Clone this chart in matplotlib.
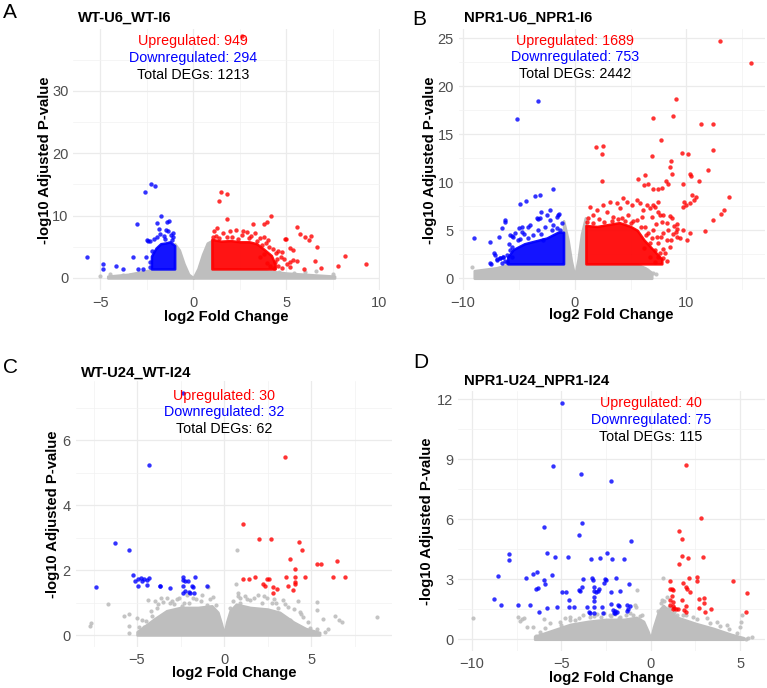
import matplotlib
matplotlib.use('Agg')
import matplotlib.pyplot as plt
import numpy as np
from matplotlib.ticker import MultipleLocator

plt.rcParams['font.family'] = ['Liberation Sans', 'DejaVu Sans']

W, H = 767, 688
RED, BLUE, GRAY = '#FF0000', '#0000FF', '#BEBEBE'

# ---------------- Panel A : WT-U6_WT-I6 ----------------
A_title = 'WT-U6_WT-I6'
A_counts = [949, 294, 1213]
A_gray_env_x = [-4.6, -3.5, -2.3, -1.05, -1.0, -0.75, -0.5, -0.25, 0.0, 0.25, 0.5, 0.75, 1.0, 1.05, 3.5, 5.0, 6.5, 7.6]
A_gray_env_y = [0.3, 0.6, 1.3, 1.4, 5.5, 4.5, 2.3, 0.6, 0.05, 1.5, 3.8, 5.6, 6.0, 1.4, 1.3, 0.8, 0.5, 0.3]
A_up_env_x = [1.0, 1.5, 2.0, 2.5, 3.0, 3.4, 3.8, 4.2, 4.4]
A_up_env_y = [6.2, 5.9, 6.0, 5.8, 5.8, 5.5, 4.6, 3.6, 2.2]
A_down_env_x = [-2.25, -2.0, -1.75, -1.5, -1.25, -1.0]
A_down_env_y = [3.5, 4.8, 5.5, 5.6, 5.8, 5.2]
A_sig_floor = 1.45
A_gray_pts = [(7.53, 0.64), (6.6, 1.17), (6.0, 0.9), (5.4, 0.8), (4.6, 0.95), (4.2, 1.0),
              (-4.48, 0.6), (-3.8, 0.45), (-3.4, 0.4), (-3.0, 0.3), (-5.0, 0.25)]
A_up_pts = [(2.63, 38.8), (1.51, 13.8), (1.79, 13.5), (1.40, 12.34), (1.83, 9.4), (4.16, 9.94),
            (3.98, 9.0), (3.8, 8.7), (3.23, 8.6), (5.59, 8.2), (5.74, 7.0), (5.99, 6.6), (6.24, 6.1),
            (6.31, 6.8), (6.64, 5.0), (4.95, 6.3), (5.0, 6.3), (5.38, 4.5), (5.2, 4.75), (4.75, 4.2),
            (8.16, 3.53), (9.28, 2.3), (7.8, 1.9), (6.87, 1.58), (6.55, 2.7), (5.59, 2.7), (5.98, 1.4),
            (5.2, 2.6), (3.59, 6.36), (3.80, 6.62), (4.03, 6.09), (3.68, 5.28), (3.9, 5.55), (4.3, 4.59),
            (4.09, 4.91), (4.45, 3.95), (4.57, 4.38), (4.7, 3.42), (3.59, 3.42), (3.95, 2.35), (4.12, 1.92),
            (4.39, 2.62), (4.57, 1.92), (4.75, 1.55), (5.02, 2.24), (5.2, 1.7), (5.38, 2.87), (4.88, 2.98),
            (3.8, 3.84), (1.1, 7.5), (1.3, 8.0), (1.6, 7.2), (2.0, 7.6), (2.3, 7.7), (2.6, 6.9), (2.9, 7.3),
            (3.1, 6.8), (1.2, 6.8), (2.1, 6.6), (2.7, 7.6), (3.3, 7.2), (1.05, 6.6), (1.4, 6.4), (1.8, 6.5),
            (2.4, 6.3), (3.0, 6.4), (3.4, 6.0), (4.5, 3.0), (4.35, 1.6)]
A_down_pts = [(-5.70, 3.31), (-4.84, 2.24), (-4.84, 1.4), (-4.16, 1.92), (-3.80, 1.45), (-3.22, 3.42),
              (-3.01, 8.65), (-2.96, 1.45), (-2.71, 1.45), (-2.61, 13.8), (-2.26, 15.06), (-2.08, 14.74),
              (-2.54, 3.4), (-2.51, 6.09), (-2.45, 5.9), (-2.35, 5.9), (-1.75, 9.94), (-1.97, 8.87),
              (-1.39, 8.9), (-1.30, 9.1), (-1.82, 7.8), (-1.45, 7.75), (-1.38, 7.6), (-1.09, 7.2),
              (-1.07, 6.5), (-1.8, 7.0), (-1.6, 6.8), (-1.2, 6.9), (-2.1, 6.3), (-1.95, 6.5),
              (-2.3, 2.5), (-2.35, 1.8), (-2.2, 4.3), (-1.15, 6.1), (-1.5, 6.2)]

# ---------------- Panel B : NPR1-U6_NPR1-I6 ----------------
B_title = 'NPR1-U6_NPR1-I6'
B_counts = [1689, 753, 2442]
B_gray_env_x = [-9.0, -7.0, -6.0, -1.05, -1.0, -0.6, -0.3, 0.0, 0.3, 0.6, 0.95, 1.05, 5.5, 6.3, 6.9]
B_gray_env_y = [0.8, 1.1, 1.45, 1.5, 6.0, 4.0, 1.8, 0.2, 2.0, 4.6, 6.3, 1.5, 1.5, 1.1, 0.6]
B_up_env_x = [1.0, 2.0, 3.0, 4.0, 5.0, 5.6, 6.2, 7.0, 7.8]
B_up_env_y = [5.5, 5.4, 5.6, 5.8, 5.4, 5.0, 4.0, 3.0, 2.0]
B_down_env_x = [-6.0, -5.5, -4.5, -3.5, -2.5, -1.5, -1.0]
B_down_env_y = [2.2, 3.0, 3.6, 3.9, 4.2, 4.8, 4.8]
B_sig_floor = 1.5
B_gray_pts = [(-9.2, 1.15), (-7.64, 0.9), (-8.0, 0.7), (-6.8, 0.8), (7.0, 0.6), (6.5, 0.9), (7.3, 0.4)]
B_up_pts = [(12.98, 24.75), (15.81, 22.4), (9.1, 18.68), (8.77, 16.87), (7.04, 16.65), (11.28, 16.07),
            (12.38, 16.07), (7.7, 14.4), (1.88, 13.7), (2.53, 13.75), (2.4, 12.9), (2.45, 10.1), (6.9, 12.7),
            (9.64, 13.0), (10.14, 12.95), (12.38, 13.4), (8.6, 12.2), (8.5, 11.6), (11.13, 10.1), (10.3, 10.9),
            (10.4, 10.7), (11.9, 11.3), (6.33, 10.8), (5.64, 10.3), (6.18, 9.7), (6.6, 9.8), (8.74, 10.9),
            (8.2, 10.1), (8.35, 9.8), (9.73, 9.8), (7.8, 9.4), (7.5, 9.3), (7.05, 9.3), (13.84, 8.43),
            (10.5, 8.7), (10.9, 8.5), (10.7, 8.2), (9.8, 7.9), (10.3, 7.8), (10.0, 7.6), (9.7, 7.4),
            (13.4, 7.1), (13.1, 6.7), (12.4, 6.1), (11.7, 4.96), (10.3, 4.67), (8.5, 6.5), (8.9, 5.4),
            (9.1, 4.8), (8.6, 4.0), (9.2, 4.3), (9.2, 5.1), (7.0, 7.6), (7.5, 7.9), (7.6, 6.6), (7.3, 5.7),
            (7.0, 5.0), (7.7, 4.3), (7.9, 3.0), (7.5, 2.2),
            (5.55, 8.16), (5.85, 7.81), (6.15, 7.12), (6.45, 7.64), (6.74, 7.29), (6.89, 6.43), (7.19, 7.47),
            (7.49, 6.95), (7.79, 5.9), (7.94, 6.6), (8.24, 5.74), (8.38, 5.05), (8.68, 6.26), (8.83, 4.6),
            (9.13, 5.64), (9.43, 4.24), (9.73, 5.05), (10.03, 4.0), (7.34, 4.34), (6.74, 3.65), (7.19, 2.96),
            (7.64, 2.6), (7.94, 2.1), (6.74, 2.26), (5.1, 7.64), (4.66, 7.98), (5.55, 6.07), (6.3, 5.38),
            (6.6, 4.68), (8.24, 3.99), (8.53, 3.3), (7.49, 3.65), (7.94, 4.68),
            (1.37, 7.46), (1.97, 7.12), (2.56, 7.64), (3.16, 7.98), (3.76, 7.81), (4.35, 8.33), (1.67, 6.6),
            (2.86, 6.95), (4.06, 7.29), (3.46, 6.43), (1.22, 6.26), (2.2, 6.2), (3.9, 6.2), (4.8, 6.6),
            (5.2, 6.0), (4.5, 6.0), (2.6, 5.9), (6.0, 6.4), (6.4, 4.5), (5.9, 5.3), (6.9, 4.2), (6.2, 3.2),
            (1.1, 5.9), (1.6, 5.8), (3.3, 6.0), (4.2, 6.3), (5.0, 5.8), (8.1, 2.6), (8.3, 1.8), (7.2, 1.7)]
B_down_pts = [(-5.19, 16.6), (-3.26, 18.47), (-9.0, 4.23), (-7.58, 1.6), (-7.46, 1.5), (-7.58, 3.75),
              (-7.27, 2.6), (-7.1, 2.4), (-6.75, 4.33), (-6.55, 5.2), (-6.25, 6.07), (-6.25, 5.9),
              (-4.9, 7.7), (-4.36, 8.05), (-3.55, 8.6), (-3.1, 8.7), (-1.97, 9.27), (-2.2, 7.1), (-3.04, 6.9),
              (-1.5, 6.6), (-1.6, 6.4), (-1.4, 6.7), (-3.35, 6.3), (-3.3, 6.2), (-4.7, 5.3), (-4.2, 5.3),
              (-5.0, 5.2), (-5.8, 4.5), (-5.65, 4.4), (-5.5, 4.3), (-7.0, 2.0), (-6.7, 2.07), (-6.4, 2.24),
              (-5.34, 4.68), (-4.75, 4.86), (-4.0, 5.55), (-3.7, 4.51), (-3.25, 5.03), (-2.66, 5.38),
              (-2.21, 6.07), (-1.91, 5.55), (-1.61, 5.2), (-1.17, 5.72), (-2.81, 3.99), (-4.15, 4.16),
              (-5.05, 3.99), (-3.1, 6.24), (-2.51, 6.59), (-6.98, 1.9), (-6.68, 2.07), (-6.38, 2.24),
              (-6.09, 2.41), (-5.79, 2.95), (-5.64, 3.3), (-6.2, 1.8), (-5.9, 3.6), (-4.5, 4.6), (-1.3, 5.0),
              (-6.5, 1.6), (-6.1, 1.7), (-5.6, 2.2), (-3.0, 4.6), (-2.0, 5.0), (-4.9, 4.1)]

# ---------------- Panel C : WT-U24_WT-I24 ----------------
C_title = 'WT-U24_WT-I24'
C_counts = [30, 32, 62]
C_gray_env_x = [-5.0, -4.5, -4.0, -3.3, -2.5, -1.5, -0.7, -0.35, -0.15, 0.0, 0.15, 0.35, 0.7, 1.5, 2.5, 3.2, 4.0, 4.7, 5.5]
C_gray_env_y = [0.1, 0.3, 0.5, 0.75, 0.85, 0.85, 0.9, 0.7, 0.35, 0.03, 0.4, 0.75, 0.95, 0.85, 0.8, 0.7, 0.4, 0.2, 0.08]
C_gray_pts = [(-7.7, 0.29), (-7.66, 0.38), (-6.68, 0.95), (-5.73, 0.6), (-5.44, 0.64), (-5.44, 0.29),
              (-5.48, 0.05), (-5.02, 0.53), (-4.6, 0.26), (-4.48, 0.43), (-4.35, 1.08), (-4.16, 0.59),
              (-3.97, 1.06), (-3.83, 0.82), (-3.64, 1.13), (-3.49, 1.02), (-3.3, 1.13), (-3.1, 1.0),
              (-2.72, 1.1), (-2.43, 0.89), (-2.14, 1.22), (-1.28, 1.22), (-0.9, 1.48), (-1.0, 0.92),
              (-0.61, 1.18), (-0.48, 0.92), (0.67, 1.57), (0.83, 1.28), (0.92, 1.13), (0.73, 2.62),
              (0.35, 0.82), (0.93, 0.97), (1.49, 1.08), (1.98, 1.22), (2.45, 1.13), (2.74, 1.0), (3.13, 0.82),
              (3.41, 1.08), (3.7, 0.87), (4.27, 1.05), (4.37, 0.72), (4.94, 0.21), (5.33, 1.03), (5.37, 0.77),
              (5.71, 0.48), (5.33, 0.18), (6.38, 0.59), (6.63, 0.47), (6.76, 0.41), (8.81, 0.54), (4.56, 0.56),
              (3.79, 0.46), (-3.66, 0.46), (-4.04, 0.26), (-4.9, 0.26), (5.0, 0.1), (6.0, 0.2), (5.8, 0.1),
              (-2.0, 1.0), (-1.6, 1.1), (1.2, 1.2), (2.2, 1.0), (-2.9, 0.95), (3.0, 1.0),
              (-3.0, 1.05), (-2.6, 1.15), (-2.3, 1.0), (-1.8, 1.15), (-1.3, 1.05), (-0.8, 1.1), (0.5, 1.05),
              (0.8, 1.2), (1.3, 1.1), (1.7, 1.15), (2.3, 1.2), (2.9, 1.1), (3.5, 0.95), (4.0, 0.8), (4.4, 0.65),
              (-4.2, 0.75), (-3.8, 0.95), (-4.7, 0.45), (4.8, 0.4)]
C_up_pts = [(1.09, 3.43), (2.01, 2.95), (2.70, 2.95), (4.29, 2.86), (4.46, 2.62), (3.81, 2.35), (4.1, 2.04),
            (5.36, 2.2), (5.55, 2.18), (6.51, 2.27), (1.11, 1.72), (1.42, 1.72), (1.8, 1.8), (2.47, 1.72),
            (2.57, 1.72), (2.26, 1.56), (2.34, 1.5), (2.82, 1.49), (3.07, 1.43), (2.84, 1.3), (3.55, 1.77),
            (3.69, 1.5), (3.95, 1.38), (4.1, 1.8), (4.1, 1.63), (4.1, 1.57), (4.65, 1.8), (6.25, 1.77),
            (6.96, 1.8), (3.51, 5.47)]
C_down_pts = [(-7.36, 1.47), (-6.26, 2.82), (-5.44, 2.62), (-5.21, 1.85), (-5.1, 1.65), (-4.95, 1.72),
              (-4.75, 1.74), (-4.6, 1.72), (-4.45, 1.7), (-4.3, 1.74), (-4.95, 1.5), (-4.7, 1.66), (-4.45, 1.55),
              (-3.68, 1.52), (-3.66, 1.5), (-3.1, 1.45), (-2.37, 1.8), (-2.33, 1.7), (-2.25, 1.66), (-2.05, 1.66),
              (-2.37, 1.52), (-2.25, 1.34), (-2.0, 1.32), (-2.36, 1.3), (-1.85, 1.52), (-1.8, 1.48),
              (-1.69, 1.78), (-1.95, 1.3), (-1.75, 1.3), (-1.0, 1.5), (-4.31, 5.23), (-2.37, 7.44)]

# ---------------- Panel D : NPR1-U24_NPR1-I24 ----------------
D_title = 'NPR1-U24_NPR1-I24'
D_counts = [40, 75, 115]
D_gray_env_x = [-6.5, -5.5, -4.5, -3.5, -2.5, -1.5, -0.8, -0.4, -0.15, 0.0, 0.15, 0.4, 0.7, 1.0, 1.5, 2.5, 3.5, 4.5, 5.2]
D_gray_env_y = [0.15, 0.45, 0.75, 0.9, 1.0, 1.0, 1.1, 0.9, 0.4, 0.03, 0.6, 1.3, 1.7, 1.45, 1.1, 0.8, 0.55, 0.25, 0.08]
D_gray_pts = [(-9.93, 1.05), (-7.44, 1.13), (-7.31, 0.92), (-7.22, 1.02), (-7.09, 1.05), (-6.57, 0.63),
              (-6.42, 0.18), (-6.2, 0.38), (-5.92, 0.55), (-5.63, 0.8), (-5.26, 0.13), (-5.08, 0.88),
              (-4.8, 1.05), (-4.52, 1.13), (-4.24, 0.97), (-3.77, 1.22), (-3.4, 1.13), (-3.03, 1.27),
              (-2.28, 1.22), (-1.72, 1.13), (-1.17, 1.3), (-0.88, 1.7), (-0.84, 1.62), (-0.78, 2.47),
              (-0.5, 1.22), (0.63, 1.97), (0.71, 1.63), (0.7, 3.05), (0.9, 2.13), (1.45, 1.22), (2.38, 1.13),
              (3.13, 1.05), (3.69, 0.88), (4.25, 0.72), (4.81, 0.3), (5.03, 0.88), (5.09, 1.22), (4.99, 0.63),
              (5.33, 0.0), (5.65, 0.13), (5.46, 0.08), (-6.9, 0.6), (-6.0, 1.0), (-2.6, 1.3), (-2.0, 1.25),
              (1.0, 1.6), (0.55, 1.5), (2.0, 1.2), (-1.4, 1.2),
              (-5.0, 0.7), (-4.5, 0.95), (-4.0, 1.05), (-3.2, 1.15), (-2.8, 1.1), (-2.2, 1.15), (-1.8, 1.05),
              (-1.0, 1.2), (-0.6, 1.15), (0.4, 1.4), (0.6, 1.8), (0.75, 1.9), (1.1, 1.5), (1.3, 1.35),
              (1.8, 1.2), (2.6, 1.0), (3.3, 0.8), (3.9, 0.65), (4.4, 0.5)]
D_up_pts = [(2.81, 6.05), (1.6, 5.43), (1.77, 5.02), (1.75, 4.18), (2.08, 4.05), (1.58, 3.75), (2.92, 4.13),
            (2.16, 3.05), (2.57, 3.1), (2.57, 2.9), (1.06, 2.93), (1.8, 2.8), (1.95, 2.6), (2.05, 2.5),
            (2.2, 2.38), (1.1, 2.5), (1.2, 2.52), (1.25, 2.48), (4.63, 2.9), (5.37, 2.3), (5.33, 1.37),
            (2.7, 2.0), (2.98, 2.05), (2.98, 1.8), (2.7, 1.55), (3.36, 1.52), (3.05, 1.38), (1.1, 1.95),
            (1.22, 1.85), (1.1, 1.7), (1.25, 1.65), (1.3, 1.55), (1.4, 1.5), (1.5, 1.52), (1.25, 1.52),
            (1.75, 1.95), (1.95, 1.65), (1.85, 1.45), (1.95, 1.38), (1.2, 2.15), (1.96, 8.7)]
D_down_pts = [(-8.77, 2.02), (-8.4, 1.73), (-8.53, 3.17), (-7.91, 4.24), (-7.91, 3.96), (-7.44, 1.70),
              (-6.99, 3.07), (-6.75, 1.70), (-6.57, 3.25), (-6.34, 3.38), (-6.4, 2.5), (-6.3, 2.57),
              (-6.23, 1.38), (-5.99, 5.6), (-5.97, 2.99), (-5.92, 2.78), (-5.82, 4.31), (-5.78, 1.55),
              (-5.5, 3.2), (-5.35, 4.1), (-5.22, 1.6), (-4.98, 2.36), (-4.74, 2.36), (-4.65, 4.13),
              (-4.56, 1.96), (-4.56, 1.6), (-4.28, 1.63), (-4.0, 5.2), (-3.84, 5.8), (-3.8, 3.0), (-3.85, 2.6),
              (-3.95, 2.4), (-4.0, 2.45), (-3.58, 1.6), (-3.45, 1.35), (-3.4, 1.33), (-3.36, 4.0), (-3.3, 3.05),
              (-3.25, 2.95), (-3.2, 2.6), (-3.18, 2.4), (-3.05, 2.35), (-2.95, 2.4), (-3.15, 2.1), (-3.15, 1.9),
              (-3.15, 1.6), (-3.2, 1.33), (-2.85, 4.08), (-2.89, 2.52), (-2.7, 1.6), (-2.65, 1.3), (-2.6, 2.8),
              (-2.55, 3.0), (-2.5, 2.98), (-2.43, 4.33), (-2.17, 4.0), (-2.2, 2.38), (-2.2, 1.75), (-2.1, 1.45),
              (-2.02, 1.4), (-1.9, 1.35), (-1.98, 1.3), (-2.05, 1.33), (-1.96, 3.05), (-1.85, 1.72), (-1.8, 1.68),
              (-1.72, 2.42), (-1.49, 4.0), (-1.3, 1.7), (-1.25, 1.5), (-1.15, 1.65), (-1.35, 1.4), (-1.21, 2.75),
              (-1.13, 4.93), (-4.98, 11.83), (-5.45, 8.68), (-3.92, 8.25), (-2.2, 7.9)]

# ---------------- layout (pixels) ----------------
fig = plt.figure(figsize=(W / 100, H / 100), dpi=100)


def add_ax(l, t, r, b):
    return fig.add_axes([l / W, 1 - b / H, (r - l) / W, (b - t) / H])


def ftext(x, y, s, **kw):
    fig.text(x / W, 1 - y / H, s, **kw)


def style(ax, xlim, ylim, xmaj, ymaj):
    ax.set_xlim(*xlim)
    ax.set_ylim(*ylim)
    ax.xaxis.set_major_locator(MultipleLocator(xmaj))
    ax.xaxis.set_minor_locator(MultipleLocator(xmaj / 2))
    ax.yaxis.set_major_locator(MultipleLocator(ymaj))
    ax.yaxis.set_minor_locator(MultipleLocator(ymaj / 2))
    ax.grid(which='major', color='#EBEBEB', lw=0.9)
    ax.grid(which='minor', color='#F2F2F2', lw=0.5)
    ax.set_axisbelow(True)
    for s in ax.spines.values():
        s.set_visible(False)
    ax.tick_params(which='both', length=0, labelsize=10.5, labelcolor='#4D4D4D')
    ax.tick_params(axis='x', pad=4)
    ax.tick_params(axis='y', pad=3.5)


def draw(ax, gx, gy, gpts, up, down, upenv=None, downenv=None, floor=None):
    ax.fill_between(gx, 0, gy, color=GRAY, lw=1.8, edgecolor=GRAY, zorder=2)
    if gpts:
        p = np.array(gpts)
        ax.scatter(p[:, 0], p[:, 1], s=9, color=GRAY, lw=0, alpha=0.9, zorder=2)
    if upenv is not None:
        ax.fill_between(upenv[0], floor, upenv[1], color=RED, lw=1.8, edgecolor=RED, alpha=0.92, zorder=3)
    if downenv is not None:
        ax.fill_between(downenv[0], floor, downenv[1], color=BLUE, lw=1.8, edgecolor=BLUE, alpha=0.92, zorder=3)
    u = np.array(up)
    d = np.array(down)
    ax.scatter(u[:, 0], u[:, 1], s=10, color=RED, lw=0, alpha=0.8, zorder=4)
    ax.scatter(d[:, 0], d[:, 1], s=10, color=BLUE, lw=0, alpha=0.8, zorder=4)


def annot(ax, ys, counts):
    ax.text(0, ys[0], f'Upregulated: {counts[0]}', color='#FF0000', ha='center', va='center', fontsize=10.3, zorder=10)
    ax.text(0, ys[1], f'Downregulated: {counts[1]}', color='#0000FF', ha='center', va='center', fontsize=10.3, zorder=10)
    ax.text(0, ys[2], f'Total DEGs: {counts[2]}', color='black', ha='center', va='center', fontsize=10.3, zorder=10)


bold = dict(fontsize=10.7, fontweight='bold', color='black')

# Panel A
axA = add_ax(73.3, 29.0, 380.2, 290.1)
style(axA, (-6.45, 10.05), (-1.94, 39.9), 5, 10)
draw(axA, A_gray_env_x, A_gray_env_y, A_gray_pts, A_up_pts, A_down_pts,
     (A_up_env_x, A_up_env_y), (A_down_env_x, A_down_env_y), A_sig_floor)
annot(axA, (37.9, 35.2, 32.5), A_counts)
ftext(3, 18.3, 'A', fontsize=15, va='baseline')
ftext(78.3, 21.5, A_title, va='baseline', **bold)
ftext(226.7, 316.7, 'log2 Fold Change', ha='center', va='center', **bold)
ftext(45, 160, '-log10 Adjusted P-value', ha='center', va='center', rotation=90, **bold)

# Panel B
axB = add_ax(458.8, 28.7, 764.6, 290.2)
style(axB, (-10.38, 17.0), (-1.24, 26.0), 10, 5)
draw(axB, B_gray_env_x, B_gray_env_y, B_gray_pts, B_up_pts, B_down_pts,
     (B_up_env_x, B_up_env_y), (B_down_env_x, B_down_env_y), B_sig_floor)
annot(axB, (24.7, 23.0, 21.25), B_counts)
ftext(412.3, 25, 'B', fontsize=15, va='baseline')
ftext(464, 21.5, B_title, va='baseline', **bold)
ftext(611.7, 315.5, 'log2 Fold Change', ha='center', va='center', **bold)
ftext(430, 160, '-log10 Adjusted P-value', ha='center', va='center', rotation=90, **bold)

# Panel C
axC = add_ax(75.6, 381.2, 392.1, 647.1)
style(axC, (-8.53, 9.66), (-0.372, 7.81), 5, 2)
draw(axC, C_gray_env_x, C_gray_env_y, C_gray_pts, C_up_pts, C_down_pts)
annot(axC, (7.36, 6.85, 6.34), C_counts)
ftext(3, 373.3, 'C', fontsize=15, va='baseline')
ftext(81, 376.7, C_title, va='baseline', **bold)
ftext(233.8, 672.7, 'log2 Fold Change', ha='center', va='center', **bold)
ftext(53, 514, '-log10 Adjusted P-value', ha='center', va='center', rotation=90, **bold)

# Panel D
axD = add_ax(458.1, 390.9, 764.7, 651.1)
style(axD, (-10.78, 6.38), (-0.59, 12.42), 5, 3)
draw(axD, D_gray_env_x, D_gray_env_y, D_gray_pts, D_up_pts, D_down_pts)
annot(axD, (11.8, 10.97, 10.13), D_counts)
ftext(413.3, 368.3, 'D', fontsize=15, va='baseline')
ftext(464, 385, D_title, va='baseline', **bold)
ftext(611.4, 678.3, 'log2 Fold Change', ha='center', va='center', **bold)
ftext(427, 521, '-log10 Adjusted P-value', ha='center', va='center', rotation=90, **bold)

fig.savefig('out.png', dpi=100, facecolor='white')
